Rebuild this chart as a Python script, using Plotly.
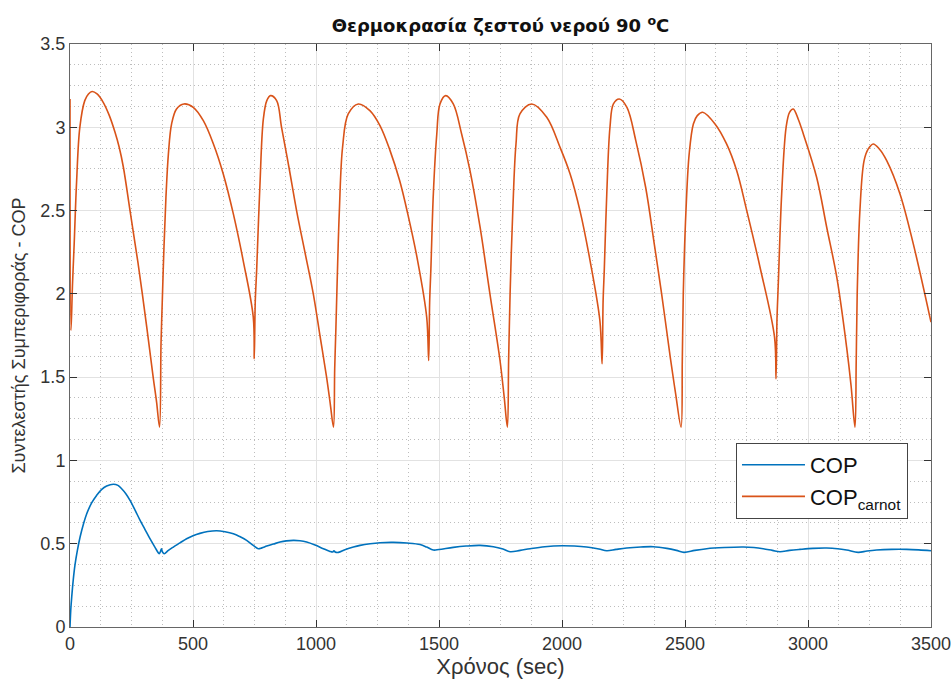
import plotly.graph_objects as go

# ---- data ----
t_carnot = [0, 4, 10, 17, 27, 40, 60, 75, 90, 110, 135, 160, 183, 200, 217, 244, 278, 312, 339, 352, 364,
            370, 375, 382, 390, 400, 413, 433, 463, 501, 542, 583, 623, 664, 704, 745, 749, 753, 759, 772, 786, 800, 815,
            840, 860, 890, 921, 955, 989, 1016, 1043, 1058, 1071,
            1076, 1081, 1088, 1095, 1108, 1131, 1172, 1219, 1260, 1301, 1340, 1373, 1413, 1450, 1458, 1462, 1467, 1477,
            1491, 1504, 1527, 1558, 1592, 1626, 1667, 1707, 1748, 1765, 1778,
            1783, 1789, 1800, 1813, 1829, 1877, 1938, 1992, 2033, 2073, 2114, 2154, 2163, 2167, 2172, 2182, 2195, 2209,
            2233, 2264, 2300, 2340, 2375, 2405, 2440, 2462, 2484,
            2489, 2493, 2504, 2517, 2534, 2550, 2572, 2622, 2669, 2710, 2751, 2805, 2864, 2870, 2874, 2879, 2893, 2911,
            2925, 2940, 2960, 2981, 3035, 3076, 3117, 3157, 3175, 3191,
            3196, 3200, 3211, 3228, 3245, 3265, 3290, 3320, 3374, 3428, 3500]
cop_carnot = [3.17, 1.78, 2.05, 2.30, 2.68, 3.00, 3.16, 3.20, 3.215, 3.20, 3.15, 3.07, 2.97, 2.88, 2.76, 2.50, 2.17, 1.80, 1.49, 1.35, 1.20,
              1.70, 1.95, 2.28, 2.58, 2.84, 3.02, 3.11, 3.14, 3.12, 3.04, 2.90, 2.72, 2.48, 2.20, 1.86, 1.61, 1.95, 2.15, 2.65, 3.05, 3.16, 3.19,
              3.16, 3.00, 2.76, 2.50, 2.25, 2.00, 1.75, 1.50, 1.34, 1.20,
              1.55, 1.80, 2.18, 2.50, 2.88, 3.08, 3.14, 3.10, 3.01, 2.86, 2.68, 2.48, 2.20, 1.86, 1.60, 1.95, 2.15, 2.60,
              2.96, 3.14, 3.19, 3.14, 2.96, 2.74, 2.40, 2.00, 1.60, 1.38, 1.20,
              1.60, 2.00, 2.50, 2.90, 3.08, 3.14, 3.06, 2.88, 2.72, 2.50, 2.20, 1.84, 1.58, 1.95, 2.15, 2.60, 3.00, 3.14,
              3.17, 3.12, 2.92, 2.64, 2.30, 2.00, 1.62, 1.40, 1.20,
              1.60, 2.00, 2.50, 2.84, 3.02, 3.07, 3.09, 3.02, 2.90, 2.74, 2.50, 2.16, 1.74, 1.49, 1.85, 2.05, 2.60, 3.00,
              3.09, 3.11, 3.05, 2.96, 2.70, 2.40, 2.10, 1.68, 1.45, 1.20,
              1.60, 2.00, 2.50, 2.80, 2.87, 2.90, 2.87, 2.80, 2.60, 2.30, 1.83]

t_cop = [0, 3, 7, 13, 20, 30, 41, 55, 68, 88, 108, 128, 149, 176, 195, 210, 227, 244, 265, 285, 305, 325, 345,
         363, 368, 372, 376, 383, 400, 420, 447, 474, 500, 528, 560, 596, 630, 664, 690, 718, 745, 765, 780, 800,
         827, 854, 880, 908, 935, 962, 996, 1030, 1055, 1068, 1073, 1078, 1091, 1120, 1152, 1179, 1220, 1260, 1314,
         1370, 1423, 1450, 1477, 1500, 1558, 1610, 1667, 1721, 1760, 1789, 1830, 1870, 1930, 1999, 2050, 2100, 2150,
         2182, 2220, 2263, 2320, 2371, 2426, 2465, 2496, 2540, 2588, 2660, 2737, 2780, 2818, 2855, 2886, 2925, 2967,
         3020, 3076, 3120, 3157, 3204, 3240, 3279, 3340, 3401, 3450, 3500]
cop = [0, 0.10, 0.18, 0.28, 0.37, 0.46, 0.54, 0.62, 0.68, 0.745, 0.79, 0.825, 0.846, 0.857, 0.85, 0.83, 0.80, 0.76,
       0.70, 0.64, 0.585, 0.53, 0.48, 0.44, 0.455, 0.47, 0.45, 0.44, 0.46, 0.48, 0.505, 0.53, 0.548, 0.562, 0.573,
       0.578, 0.572, 0.56, 0.543, 0.52, 0.49, 0.47, 0.475, 0.486, 0.498, 0.51, 0.517, 0.52, 0.518, 0.51, 0.492, 0.47,
       0.455, 0.45, 0.458, 0.45, 0.448, 0.465, 0.48, 0.49, 0.50, 0.506, 0.508, 0.504, 0.495, 0.48, 0.462, 0.465,
       0.478, 0.486, 0.49, 0.482, 0.468, 0.452, 0.46, 0.47, 0.482, 0.488, 0.486, 0.48, 0.468, 0.458, 0.466, 0.474,
       0.48, 0.482, 0.472, 0.46, 0.448, 0.46, 0.47, 0.477, 0.48, 0.477, 0.47, 0.46, 0.452, 0.46, 0.466, 0.472,
       0.474, 0.47, 0.462, 0.448, 0.456, 0.462, 0.466, 0.466, 0.463, 0.458]

x_ticks = [0, 500, 1000, 1500, 2000, 2500, 3000, 3500]
x_tick_labels = ["0", "500", "1000", "1500", "2000", "2500", "3000", "3500"]
y_ticks = [0, 0.5, 1, 1.5, 2, 2.5, 3, 3.5]
y_tick_labels = ["0", "0.5", "1", "1.5", "2", "2.5", "3", "3.5"]

FONT = "Liberation Sans"
AX = "#666666"

fig = go.Figure()
fig.add_trace(go.Scatter(x=t_cop, y=cop, mode="lines", name="COP",
                         line=dict(color="#0072BD", width=1.6, shape="spline", smoothing=1)))
fig.add_trace(go.Scatter(x=t_carnot, y=cop_carnot, mode="lines", name="COP<sub>carnot</sub>",
                         line=dict(color="#D95319", width=1.6, shape="spline", smoothing=1)))

axis_common = dict(showline=True, linecolor=AX, linewidth=1, mirror="allticks",
                   ticks="inside", ticklen=7, tickcolor="#333333", tickwidth=1,
                   showgrid=True, gridcolor="#e2e2e2", gridwidth=1, zeroline=False, automargin=False,
                   tickfont=dict(family=FONT, size=18, color="#333333"))

fig.update_xaxes(range=[0, 3500], tickvals=x_ticks, ticktext=x_tick_labels,
                 minor=dict(dtick=125, tick0=0, showgrid=True, gridcolor="#bdbdbd", griddash="1px,3px", gridwidth=1),
                 title=dict(text="Χρόνος (sec)", font=dict(family=FONT, size=22, color="#333333"), standoff=5),
                 **axis_common)
fig.update_yaxes(range=[0, 3.5], tickvals=y_ticks, ticktext=y_tick_labels,
                 minor=dict(dtick=0.125, tick0=0, showgrid=True, gridcolor="#bdbdbd", griddash="1px,3px", gridwidth=1),
                 title=dict(text="Συντελεστής Συμπεριφοράς - COP", font=dict(family=FONT, size=18, color="#333333"), standoff=10),
                 **axis_common)

fig.update_layout(
    width=952, height=686,
    margin=dict(l=70, r=21, t=44, b=59),
    paper_bgcolor="white", plot_bgcolor="white",
    title=dict(text="<b>Θερμοκρασία ζεστού νερού 90 <sup>o</sup>C</b>", x=0.5257, xanchor="center",
               y=0.962, yanchor="middle", font=dict(family="DejaVu Sans", size=18, color="#111111")),
    legend=dict(x=0.7735, y=0.3156, xanchor="left", yanchor="top",
                bgcolor="white", bordercolor="#444444", borderwidth=1,
                font=dict(family=FONT, size=22, color="#111111"),
                itemwidth=63, tracegroupgap=0),
    showlegend=True,
)

fig.write_html("out.html")
